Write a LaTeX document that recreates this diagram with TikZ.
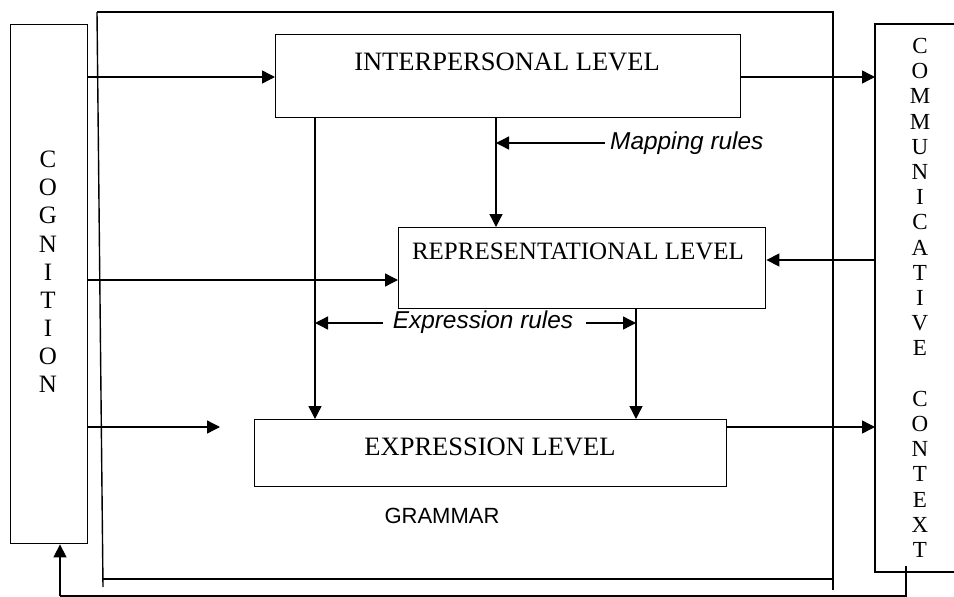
\documentclass[tikz,border=0pt]{standalone}
\usepackage{fontspec}
\setmainfont{Liberation Serif}
\newfontfamily\arialf{Liberation Sans}
\usetikzlibrary{arrows.meta}
\tikzset{
  box/.style={draw, line width=1.4pt, rectangle, inner sep=0pt, anchor=north west},
  ln/.style={line width=1.4pt},
  arr/.style={line width=1.4pt, -{Triangle[length=13pt,width=13pt]}},
  lvl/.style={font=\fontsize{26.5pt}{30pt}\selectfont, inner sep=0pt},
  rule/.style={font=\arialf\itshape\fontsize{24.4pt}{28pt}\selectfont, inner sep=0pt, anchor=west},
  vlet/.style={font=\fontsize{25pt}{28.1pt}\selectfont, align=center, inner sep=0pt, anchor=north},
  vlet2/.style={font=\fontsize{23pt}{25.2pt}\selectfont, align=center, inner sep=0pt, anchor=north},
}
\begin{document}
\begin{tikzpicture}[x=1pt, y=-1pt]
\useasboundingbox (0,0) rectangle (954,597);
% cognition
\node[box, minimum width=77pt, minimum height=519pt] (cog) at (10,24) {};
\node[vlet] (cogt) at (48,151) {C\\O\\G\\N\\I\\T\\I\\O\\N};
% grammar frame
\coordinate (ftl) at (97,12);
\coordinate (ftr) at (833,12);
\coordinate (fbl) at (103,587);
\coordinate (fbr) at (833,590);
\coordinate (fb1) at (103,579);
\coordinate (fb2) at (833,579);
\draw[ln] (ftl) -- (ftr) -- (fbr);
\draw[ln] (ftl) -- (fbl);
\draw[ln] (fb1) -- (fb2);
% communicative context
\coordinate (ctl) at (875,24);
\coordinate (cbl) at (875,572);
\draw[ln] (960,24) -- (ctl) -- (cbl) -- (960,572);
\node[minimum width=85pt, minimum height=548pt, inner sep=0pt, anchor=north west] (com) at (875,24) {};
\node[vlet2] (comt) at (920,38) {C\\O\\M\\M\\U\\N\\I\\C\\A\\T\\I\\V\\E\\ \\C\\O\\N\\T\\E\\X\\T};
% levels
\node[box, minimum width=465pt, minimum height=83pt] (inter) at (275,34) {};
\node[lvl] (intert) at (507,62) {INTERPERSONAL LEVEL};
\node[box, minimum width=367pt, minimum height=81pt] (rep) at (398,227) {};
\node[lvl, font=\fontsize{25pt}{29pt}\selectfont] (rept) at (578,251) {REPRESENTATIONAL LEVEL};
\node[box, minimum width=472pt, minimum height=67pt] (expr) at (254,419) {};
\node[lvl] (exprt) at (490,447) {EXPRESSION LEVEL};
\node[font=\arialf\fontsize{22pt}{26pt}\selectfont, inner sep=0pt] (gram) at (442,516) {GRAMMAR};
% arrows from cognition
\draw[arr] (cog.east |- 0,77) -- (inter.west |- 0,77);
\draw[arr] (cog.east |- 0,280) -- (rep.west |- 0,280);
\coordinate (cogx) at (220,427);
\draw[arr] (cog.east |- 0,427) -- (cogx);
% arrows to communicative context
\draw[arr] (inter.east |- 0,77) -- (com.west |- 0,77);
\draw[arr] (expr.east |- 0,427) -- (com.west |- 0,427);
\draw[arr] (com.west |- 0,260) -- (rep.east |- 0,260);
% mapping rules
\draw[arr] (inter.south -| 496,0) -- (rep.north -| 496,0);
\coordinate (mapS) at (605,143);
\draw[arr] (mapS) -- (496,143);
\node[rule] (mapt) at (610,143) {Mapping rules};
% expression rules
\draw[arr] (inter.south -| 315,0) -- (expr.north -| 315,0);
\draw[arr] (rep.south -| 636,0) -- (expr.north -| 636,0);
\node[rule, anchor=center] (expt) at (483,322) {Expression rules};
\coordinate (eL) at (383,323);
\coordinate (eR) at (586,323);
\draw[arr] (eL) -- (315,323);
\draw[arr] (eR) -- (636,323);
% feedback
\coordinate (fbA) at (906,566);
\coordinate (fbB) at (906,596);
\coordinate (fbC) at (60,596);
\draw[ln] (fbA) -- (fbB) -- (fbC);
\draw[arr] (fbC) -- (cog.south -| fbC);
\end{tikzpicture}
\end{document}
